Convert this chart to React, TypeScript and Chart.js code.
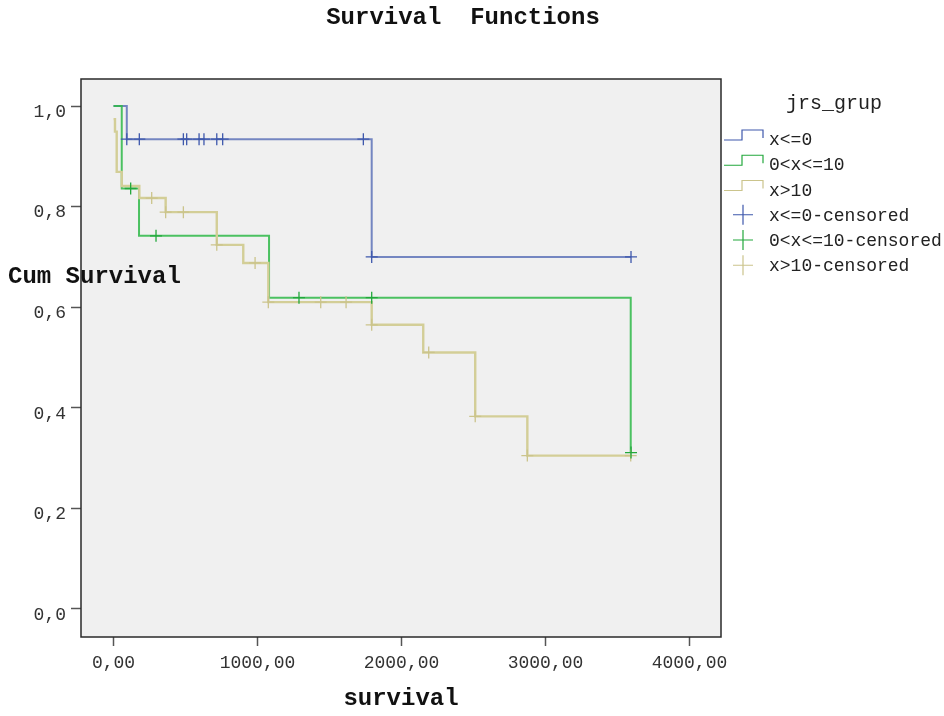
import { useEffect, useRef } from 'react';
import { Chart, registerables } from 'chart.js';

Chart.register(...registerables);

const FONT = '"Liberation Mono", "Courier New", monospace';

// ---- axis ticks ----
const xTicks = [0, 1000, 2000, 3000, 4000];
const xTickLabels = ['0,00', '1000,00', '2000,00', '3000,00', '4000,00'];
const yTicks = [0, 0.2, 0.4, 0.6, 0.8, 1.0];
const yTickLabels = ['0,0', '0,2', '0,4', '0,6', '0,8', '1,0'];

// ---- texts ----
const chartTitle = 'Survival  Functions';
const xTitle = 'survival';
const yTitle = 'Cum Survival';
const legendTitle = 'jrs_grup';
const groupLabels = ['x<=0', '0<x<=10', 'x>10'];
const censoredLabels = ['x<=0-censored', '0<x<=10-censored', 'x>10-censored'];

// ---- group x<=0 ----
const g1Times = [0, 92, 1793, 3594];
const g1Surv = [1.0, 0.934, 0.7, 0.7];
const g1CensTimes = [92, 179, 485, 508, 594, 628, 717, 758, 1735, 1793, 3594];
const g1CensSurv = [0.934, 0.934, 0.934, 0.934, 0.934, 0.934, 0.934, 0.934, 0.934, 0.7, 0.7];

// ---- group 0<x<=10 ----
const g2Times = [0, 57, 177, 1080, 3592];
const g2Surv = [1.0, 0.836, 0.742, 0.619, 0.311];
const g2CensTimes = [119, 295, 1288, 1793, 3594];
const g2CensSurv = [0.836, 0.742, 0.619, 0.619, 0.311];

// ---- group x>10 ----
const g3Times = [0, 10, 22, 57, 179, 362, 717, 901, 1075, 1793, 2151, 2512, 2874, 3592];
const g3Surv = [0.974, 0.949, 0.869, 0.841, 0.817, 0.789, 0.724, 0.688, 0.61, 0.565, 0.51, 0.383, 0.305, 0.305];
const g3CensTimes = [265, 362, 485, 717, 983, 1075, 1439, 1615, 1793, 2189, 2512, 2874, 3592];
const g3CensSurv = [0.817, 0.789, 0.789, 0.724, 0.688, 0.61, 0.61, 0.61, 0.565, 0.51, 0.383, 0.305, 0.305];

const lineColors = ['rgba(62,88,172,0.7)', 'rgba(46,184,72,0.85)', 'rgba(211,206,151,1)'];
const crossColors = ['#3e58ac', '#23a83c', '#cbc48c'];

const toPts = (t: number[], s: number[]) => t.map((v, i) => ({ x: v, y: s[i] }));

const framePlugin = {
  id: 'spssFrame',
  beforeDraw(chart: any) {
    const { ctx, chartArea: a } = chart;
    ctx.save();
    ctx.fillStyle = '#ffffff';
    ctx.fillRect(0, 0, chart.width, chart.height);
    ctx.fillStyle = '#f0f0f0';
    ctx.fillRect(a.left, a.top, a.right - a.left, a.bottom - a.top);
    ctx.restore();
  },
  beforeDatasetsDraw(chart: any) {
    const { ctx, chartArea: a } = chart;
    ctx.save();
    ctx.strokeStyle = '#2a2a2a';
    ctx.lineWidth = 1.5;
    ctx.strokeRect(a.left, a.top, a.right - a.left, a.bottom - a.top);
    ctx.restore();
  },
  afterDraw(chart: any) {
    const { ctx, chartArea: a } = chart;
    ctx.save();
    ctx.fillStyle = '#111';
    ctx.textBaseline = 'alphabetic';
    ctx.font = `bold 24px ${FONT}`;
    ctx.textAlign = 'center';
    ctx.fillText(chartTitle, 463, 24);
    ctx.fillText(xTitle, (a.left + a.right) / 2, 705);
    ctx.textAlign = 'left';
    ctx.fillText(yTitle, 8, 283);

    // legend
    const lx = a.right;
    ctx.fillStyle = '#222';
    ctx.font = `20px ${FONT}`;
    ctx.textAlign = 'center';
    ctx.fillText(legendTitle, lx + 113, 109);
    ctx.font = `18px ${FONT}`;
    ctx.textAlign = 'left';
    const rowH = 25.25;
    const base0 = 145;
    groupLabels.forEach((lab, i) => {
      const b = base0 + i * rowH;
      ctx.strokeStyle = crossColors[i];
      ctx.lineWidth = 1.2;
      ctx.beginPath();
      ctx.moveTo(lx + 3, b - 5);
      ctx.lineTo(lx + 21, b - 5);
      ctx.lineTo(lx + 21, b - 15);
      ctx.lineTo(lx + 42, b - 15);
      ctx.lineTo(lx + 42, b - 7);
      ctx.stroke();
      ctx.fillStyle = '#222';
      ctx.fillText(lab, lx + 48, b);
    });
    censoredLabels.forEach((lab, i) => {
      const b = base0 + (i + 3) * rowH;
      const cx = lx + 22;
      const cy = b - 6;
      ctx.strokeStyle = crossColors[i];
      ctx.lineWidth = 1.2;
      ctx.beginPath();
      ctx.moveTo(cx - 10, cy);
      ctx.lineTo(cx + 10, cy);
      ctx.moveTo(cx, cy - 10);
      ctx.lineTo(cx, cy + 10);
      ctx.stroke();
      ctx.fillStyle = '#222';
      ctx.fillText(lab, lx + 48, b);
    });
    ctx.restore();
  },
};

export default function App() {
  const ref = useRef<HTMLCanvasElement | null>(null);

  useEffect(() => {
    if (!ref.current) return;
    const curve = (label: string, t: number[], s: number[], i: number) => ({
      type: 'scatter' as const,
      label,
      data: toPts(t, s),
      showLine: true,
      stepped: 'before' as const,
      borderColor: lineColors[i],
      backgroundColor: lineColors[i],
      borderWidth: i === 2 ? 2.4 : 2,
      pointRadius: 0,
      order: 5 - i,
    });
    const cens = (label: string, t: number[], s: number[], i: number) => ({
      type: 'scatter' as const,
      label,
      data: toPts(t, s),
      showLine: false,
      pointStyle: 'cross' as const,
      pointRadius: 6,
      pointHoverRadius: 6,
      borderColor: crossColors[i],
      backgroundColor: crossColors[i],
      borderWidth: 1.3,
      order: 1,
    });

    const chart = new Chart(ref.current, {
      type: 'scatter',
      data: {
        datasets: [
          curve(groupLabels[0], g1Times, g1Surv, 0),
          curve(groupLabels[1], g2Times, g2Surv, 1),
          curve(groupLabels[2], g3Times, g3Surv, 2),
          cens(censoredLabels[0], g1CensTimes, g1CensSurv, 0),
          cens(censoredLabels[1], g2CensTimes, g2CensSurv, 1),
          cens(censoredLabels[2], g3CensTimes, g3CensSurv, 2),
        ] as any,
      },
      options: {
        responsive: false,
        animation: false,
        devicePixelRatio: 1,
        layout: { padding: { top: 79, right: 223, left: 0, bottom: 0 } },
        plugins: {
          legend: { display: false },
          title: { display: false },
          tooltip: { enabled: false },
        },
        events: [],
        scales: {
          x: {
            type: 'linear',
            min: -226,
            max: 4219,
            afterBuildTicks: (s: any) => {
              s.ticks = xTicks.map((v) => ({ value: v }));
            },
            afterFit: (s: any) => {
              s.height = 79;
            },
            grid: { display: true, drawOnChartArea: false, drawTicks: true, tickLength: 9, tickColor: '#555', tickWidth: 1.5 },
            border: { display: false },
            ticks: {
              color: '#333',
              font: { family: FONT, size: 18 },
              padding: 6,
              maxRotation: 0,
              autoSkip: false,
              callback: (v: any) => xTickLabels[xTicks.indexOf(Number(v))] ?? '',
            },
          },
          y: {
            type: 'linear',
            min: -0.0557,
            max: 1.0537,
            afterBuildTicks: (s: any) => {
              s.ticks = yTicks.map((v) => ({ value: v }));
            },
            afterFit: (s: any) => {
              s.width = 81;
            },
            grid: { display: true, drawOnChartArea: false, drawTicks: true, tickLength: 10, tickColor: '#555', tickWidth: 1.5 },
            border: { display: false },
            ticks: {
              color: '#333',
              font: { family: FONT, size: 18 },
              padding: 5,
              labelOffset: 6,
              autoSkip: false,
              callback: (v: any) => {
                const idx = yTicks.findIndex((t) => Math.abs(t - Number(v)) < 1e-6);
                return idx >= 0 ? yTickLabels[idx] : '';
              },
            },
          },
        },
      },
      plugins: [framePlugin],
    });
    return () => chart.destroy();
  }, []);

  return (
    <div style={{ position: 'absolute', left: 0, top: 0, width: 944, height: 716, background: '#fff' }}>
      <canvas ref={ref} width={944} height={716} style={{ display: 'block', width: 944, height: 716 }} />
    </div>
  );
}
